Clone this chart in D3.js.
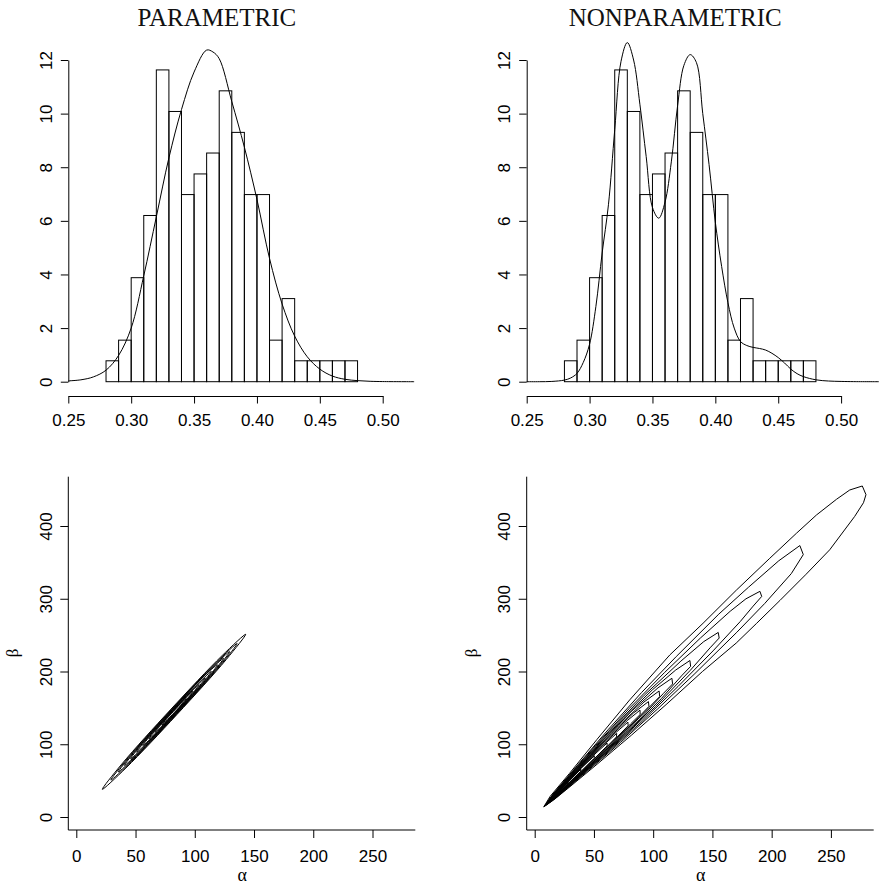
<!DOCTYPE html>
<html>
<head>
<meta charset="utf-8">
<script src="https://cdn.jsdelivr.net/npm/d3@7"></script>
<style>
  body { margin: 0; background: #fff; }
  svg { display: block; }
</style>
</head>
<body>
<script>
// ---------- data ----------
const panelTitles = ["PARAMETRIC", "NONPARAMETRIC"];

// histogram of the observed rates (density scale)
const binEdges = [0.28, 0.29, 0.30, 0.31, 0.32, 0.33, 0.34, 0.35, 0.36, 0.37, 0.38,
                  0.39, 0.40, 0.41, 0.42, 0.43, 0.44, 0.45, 0.46, 0.47, 0.48];
const binDensity = [0.78, 1.55, 3.88, 6.20, 11.63, 10.08, 6.98, 7.75, 8.53, 10.85,
                    9.30, 6.98, 6.98, 1.55, 3.10, 0.78, 0.78, 0.78, 0.78, 0.78];

// fitted parametric density
const paramX = [0.25, 0.26, 0.27, 0.28, 0.29, 0.30, 0.31, 0.32, 0.33, 0.34, 0.35, 0.36, 0.365,
                0.37, 0.38, 0.39, 0.40, 0.41, 0.42, 0.43, 0.44, 0.45, 0.46, 0.47, 0.48, 0.49, 0.50, 0.525];
const paramY = [0.03, 0.07, 0.18, 0.43, 0.98, 2.0, 3.95, 6.15, 8.35, 10.15, 11.55, 12.37, 12.3,
                12.05, 10.45, 8.75, 6.8, 4.6, 2.9, 1.7, 0.93, 0.47, 0.21, 0.09, 0.04, 0.015, 0.005, 0.0];

// nonparametric density estimate
const kdeX = [0.25, 0.26, 0.27, 0.28, 0.285, 0.29, 0.295, 0.30, 0.305, 0.31, 0.315, 0.32, 0.325,
              0.33, 0.335, 0.34, 0.345, 0.35, 0.355, 0.36, 0.365, 0.37, 0.375, 0.38, 0.385, 0.39,
              0.395, 0.40, 0.405, 0.41, 0.415, 0.42, 0.425, 0.43, 0.435, 0.44, 0.445, 0.45, 0.455,
              0.46, 0.465, 0.47, 0.48, 0.49, 0.50, 0.51, 0.53];
const kdeY = [0, 0, 0.01, 0.06, 0.14, 0.31, 0.72, 1.4, 2.8, 4.8, 6.6, 9.4, 11.95,
              12.65, 12.0, 10.35, 8.4, 6.5, 6.1, 6.7, 8.2, 10.3, 11.8, 12.2, 11.9, 10.0,
              8.1, 5.95, 4.3, 2.95, 2.0, 1.5, 1.35, 1.28, 1.24, 1.18, 1.06, 0.9, 0.7,
              0.47, 0.3, 0.19, 0.07, 0.025, 0.01, 0.003, 0];

const histXTicks = [0.25, 0.30, 0.35, 0.40, 0.45, 0.50];
const histYTicks = [0, 2, 4, 6, 8, 10, 12];
const alphaTicks = [0, 50, 100, 150, 200, 250];
const betaTicks = [0, 100, 200, 300, 400];

// posterior contours of (alpha, beta), parametric model: nested ellipses
const paramContours = [
  [[21.96,38.05],[38.35,72.7],[79.99,148.33],[123.05,221.84],[142.98,251.15],[126.59,216.5],[84.95,140.87],[41.89,67.36]],
  [[29.18,50.76],[43.62,81.28],[80.29,147.88],[118.2,212.6],[135.76,238.44],[121.32,207.92],[84.65,141.32],[46.74,76.6]],
  [[35.48,61.86],[48.22,88.77],[80.55,147.49],[113.98,204.55],[129.46,227.34],[116.72,200.43],[84.39,141.71],[50.96,84.65]],
  [[40.64,70.94],[51.97,94.91],[80.75,147.18],[110.51,198.0],[124.3,218.26],[112.97,194.29],[84.19,142.02],[54.43,91.21]],
  [[45.8,80.02],[55.74,101.03],[80.97,146.86],[106.06,191.39],[119.14,209.18],[109.2,188.17],[83.97,142.34],[57.88,97.81]],
  [[50.95,89.1],[59.49,107.16],[81.18,146.54],[103.61,184.82],[113.99,200.1],[105.45,182.04],[83.76,142.66],[61.33,104.38]],
  [[56.11,98.19],[63.25,113.28],[81.39,146.22],[100.15,178.24],[108.83,191.01],[101.69,175.92],[83.55,142.98],[64.79,110.96]],
  [[61.27,107.27],[67.01,119.41],[81.6,145.91],[96.69,171.65],[103.67,181.93],[97.93,169.79],[83.34,143.29],[68.25,117.55]],
  [[66.43,116.35],[70.77,125.54],[81.81,145.59],[93.23,165.08],[98.51,172.85],[94.17,163.66],[83.13,143.61],[71.71,124.12]],
  [[72.16,126.44],[74.95,132.35],[82.05,145.23],[89.39,157.77],[92.78,162.76],[89.99,156.85],[82.89,143.97],[75.55,131.43]]
];

// posterior contours of (alpha, beta), nonparametric model: nested banana shapes
const nonparamContours = [
  [[7.6,13.8],[13,28.3],[29.4,60],[52.4,106.3],[80.2,161],[114,222.7],[142.1,266.3],[170.3,312],[198.4,355.6],
   [220.9,390],[237.8,415.1],[254.7,436.7],[265.9,449.5],[276.5,455],[279.6,443.1],[277.5,432],[270,413],
   [249,367.3],[229.1,333.7],[207,297.7],[187.1,265.9],[170.1,239.1],[141.6,200],[111.6,155.5],[81.8,112.7],
   [52.7,72.6],[29.8,41.7],[16,23.4]],
  [[8.2,14.7],[15.1,30.7],[34.3,67.6],[61.9,119.9],[90.2,171.1],[119.5,220.6],[155.4,278.9],[180.5,315.9],
   [206,352.2],[223.8,373.1],[226.7,360.7],[216.6,334.6],[194.1,293.4],[170.6,253.9],[134.5,196],[103.8,148.6],
   [72.5,102.5],[40.5,57.5],[17.9,26.1]],
  [[8.5,15.2],[15.2,30.5],[29,56.7],[51.3,98.2],[79.8,149.2],[109.4,198.3],[139.8,245.9],[165,282.8],[178.3,299.9],
   [190.1,310.2],[191.6,303.2],[184.4,289.9],[173.5,268.7],[150.5,228.3],[120.9,179.3],[90.6,131.4],[59.2,85.2],
   [33.7,49],[17.7,26.4]],
  [[8.8,15.7],[15.4,30.4],[34.9,66.6],[63.1,117.9],[92.5,167.4],[123.4,214.3],[142.7,241.1],[154.9,253.7],
   [155.7,246],[148,232.5],[131.2,201.4],[102,151.8],[71.3,104.4],[39.9,58.4],[17.7,26.5]],
  [[9.1,16.2],[13.8,27.1],[29.5,56],[52.2,96.8],[75.4,136.9],[99.6,175.2],[119,202],[131,215.1],[131.6,207],
   [123.9,194],[107,163],[83.2,124],[58.5,86.4],[33.4,49.6],[15.7,23.9]],
  [[9.4,16.7],[15.6,30],[35.3,65.9],[58.3,106.3],[81.9,145.7],[104.1,177.6],[115.8,190.7],[116.4,182.9],
   [108.7,170],[88.7,134.5],[64.4,96.3],[39.5,59],[17.5,26.8]],
  [[9.7,17.1],[14,26.8],[27,50.3],[47.1,85.6],[70.6,125.2],[92.2,158],[105,173.2],[105.5,165.5],[96.6,150.8],
   [76.2,116],[51.7,78],[30,45.4],[15.5,24.2]],
  [[10,17.6],[21.5,39.8],[41.5,75.3],[65.1,114.7],[83.5,143.1],[96,158.6],[96.44,152.05],[87.4,136.7],
   [69.7,107.1],[45.3,69],[23.6,36.3]],
  [[10.3,18.1],[19.8,36.7],[38.9,69.8],[59.5,104.4],[78.1,132.5],[88.9,146.9],[89.0,140.83],[80.9,127.9],
   [63.4,98],[42.1,64.6],[21.6,33.7]],
  [[10.6,18.6],[27.5,49.5],[47.9,84.2],[66.2,112.9],[78.7,130.4],[78.81,125.35],[68.8,108.6],[51,79.2],[29.6,45.9]],
  [[10.9,19.1],[21.95,39.0],[39.4,69.1],[57.4,98.1],[69.2,114.9],[69.03,110.15],[59.6,94.4],[41.6,65.3],[23.16,37.0]],
  [[11.2,19.6],[16.33,28.7],[30.83,53.7],[48.6,83.2],[61.1,101.7],[61.11,97.76],[50.4,80.3],[32.25,51.4],[16.84,27.9]],
  [[11.5,20.0],[19.3,33.6],[36.9,63.3],[50.4,84.2],[50.13,80.63],[38.2,61.2],[19.87,32.67]],
  [[11.8,20.5],[16.45,28.5],[28.24,48.2],[39,65.8],[38.62,62.44],[28.9,47.1],[16.73,28.06]],
  [[12.1,21],[19.43,33.4],[28.39,47.97],[27.64,45.3],[19.74,32.88]],
  [[12.4,21.5],[16.0,27.4],[20.71,35.2],[19.72,32.91],[16.07,27.2]]
];

// ---------- drawing ----------
const W = 879, H = 885;
const SANS = "'Liberation Sans', Arial, Helvetica, sans-serif";
const SERIF = "'Liberation Serif', 'Times New Roman', Times, serif";

const svg = d3.select("body").append("svg").attr("width", W).attr("height", H);

const colX = [68.3, 526.7];            // y-axis position of each column
const histY = d3.scaleLinear().domain([0, 12]).range([381.7, 60]);
const contY = d3.scaleLinear().domain([0, 400]).range([817, 526]);

function styleAxis(g) {
  g.attr("font-family", SANS).attr("font-size", 17);
  g.selectAll("line").attr("stroke", "#000");
  g.selectAll("path").attr("stroke", "#000");
  g.selectAll("text").attr("fill", "#000");
}

function rotateYLabels(g) {
  g.selectAll(".tick text")
    .attr("x", 0).attr("y", -16.5).attr("dy", null)
    .attr("text-anchor", "middle")
    .attr("transform", "rotate(-90)");
}

function histPanel(col, xs, ys, title) {
  const ox = colX[col];
  const x = d3.scaleLinear().domain([0.25, 0.5]).range([ox, ox + 314.4]);
  const g = svg.append("g");

  g.append("text")
    .attr("x", ox + 148.5).attr("y", 26)
    .attr("text-anchor", "middle")
    .attr("font-family", SERIF).attr("font-size", 25).attr("fill", "#111")
    .text(title);

  g.append("g").selectAll("rect").data(binDensity).join("rect")
    .attr("x", (d, i) => x(binEdges[i]))
    .attr("y", d => histY(d))
    .attr("width", (d, i) => x(binEdges[i + 1]) - x(binEdges[i]))
    .attr("height", d => histY(0) - histY(d))
    .attr("fill", "none").attr("stroke", "#000").attr("stroke-width", 1);

  const line = d3.line()
    .x(d => x(d[0])).y(d => histY(d[1]))
    .curve(d3.curveCatmullRom.alpha(0.5));
  g.append("path").datum(d3.zip(xs, ys))
    .attr("d", line)
    .attr("fill", "none").attr("stroke", "#000").attr("stroke-width", 1);

  const xa = g.append("g").attr("transform", "translate(0,396)")
    .call(d3.axisBottom(x).tickValues(histXTicks).tickSize(7.5).tickSizeOuter(0)
      .tickFormat(d3.format(".2f")));
  styleAxis(xa);
  xa.selectAll(".tick text").attr("y", 30).attr("dy", null);

  const ya = g.append("g").attr("transform", `translate(${ox},0)`)
    .call(d3.axisLeft(histY).tickValues(histYTicks).tickSize(7.5).tickSizeOuter(0));
  styleAxis(ya);
  rotateYLabels(ya);
}

function contourPanel(col, rings, curve) {
  const ox = colX[col];
  const x = d3.scaleLinear().domain([0, 250]).range([ox + 8, ox + 8 + 296.2]);
  const g = svg.append("g");

  const line = d3.line().x(d => x(d[0])).y(d => contY(d[1])).curve(curve);
  g.append("g").selectAll("path").data(rings).join("path")
    .attr("d", line)
    .attr("fill", "none").attr("stroke", "#000").attr("stroke-width", 1);

  // L-shaped frame
  g.append("path")
    .attr("d", `M${ox},476.7V830H${ox + 347}`)
    .attr("fill", "none").attr("stroke", "#000").attr("stroke-width", 1);

  const xa = g.append("g").attr("transform", "translate(0,830)")
    .call(d3.axisBottom(x).tickValues(alphaTicks).tickSize(8).tickSizeOuter(0));
  xa.select(".domain").remove();
  styleAxis(xa);
  xa.selectAll(".tick text").attr("y", 31.5).attr("dy", null);

  const ya = g.append("g").attr("transform", `translate(${ox},0)`)
    .call(d3.axisLeft(contY).tickValues(betaTicks).tickSize(8).tickSizeOuter(0));
  ya.select(".domain").remove();
  styleAxis(ya);
  rotateYLabels(ya);

  g.append("text")
    .attr("x", ox + 174).attr("y", 881)
    .attr("text-anchor", "middle")
    .attr("font-family", SERIF).attr("font-size", 18).attr("fill", "#000")
    .text("α");

  g.append("text")
    .attr("transform", `translate(${ox - 50},653) rotate(-90)`)
    .attr("text-anchor", "middle")
    .attr("font-family", SERIF).attr("font-size", 17).attr("fill", "#000")
    .text("β");
}

histPanel(0, paramX, paramY, panelTitles[0]);
histPanel(1, kdeX, kdeY, panelTitles[1]);
contourPanel(0, paramContours, d3.curveCatmullRomClosed.alpha(0.5));
contourPanel(1, nonparamContours, d3.curveLinearClosed);
</script>
</body>
</html>
